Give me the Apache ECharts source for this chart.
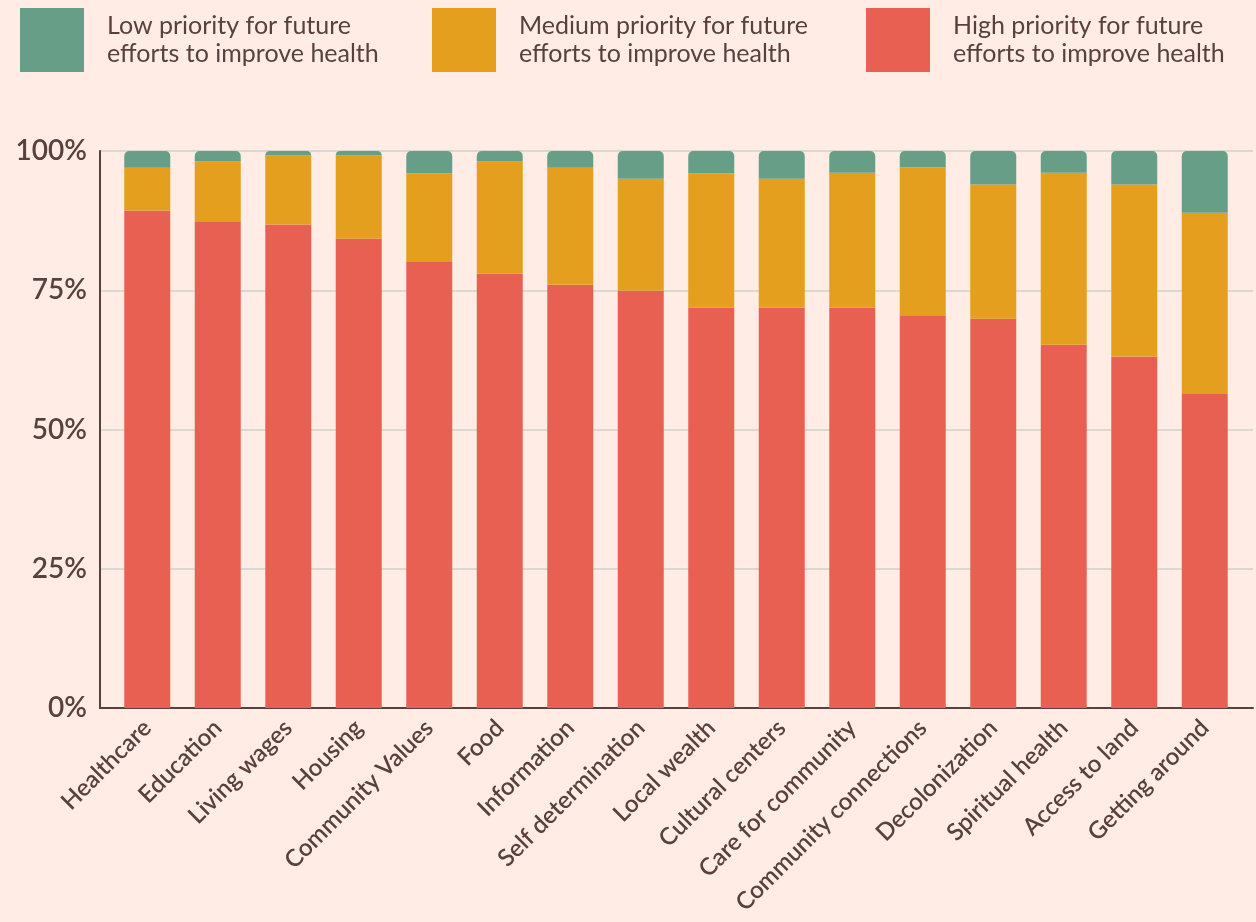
<!DOCTYPE html>
<html>
<head>
<meta charset="utf-8">
<script src="https://cdn.jsdelivr.net/npm/echarts@6/dist/echarts.min.js"></script>
<style>
  html, body { margin: 0; padding: 0; background: #feece5; }
  #chart { width: 1256px; height: 922px; }
</style>
</head>
<body>
<div id="chart"></div>
<script>
// categories, left to right
const categories = [
  "Healthcare", "Education", "Living wages", "Housing", "Community Values",
  "Food", "Information", "Self determination", "Local wealth", "Cultural centers",
  "Care for community", "Community connections", "Decolonization",
  "Spiritual health", "Access to land", "Getting around"
];

// share of respondents (%) per priority level
const highPriority = [89.3, 87.4, 86.8, 84.3, 80.2, 78.0, 76.0, 74.9, 71.9, 71.9, 71.9, 70.5, 69.9, 65.2, 63.1, 56.5];
const mediumPriority = [7.7, 10.7, 12.4, 14.9, 15.8, 20.1, 21.0, 20.1, 24.1, 23.1, 24.2, 26.6, 24.1, 30.9, 30.9, 32.4];
const lowPriority = [3.0, 1.9, 0.8, 0.8, 4.0, 1.9, 3.0, 5.0, 4.0, 5.0, 3.9, 2.9, 6.0, 3.9, 6.0, 11.1];

const yTicks = [0, 25, 50, 75, 100];

const seriesNames = {
  low: "Low priority for future\nefforts to improve health",
  medium: "Medium priority for future\nefforts to improve health",
  high: "High priority for future\nefforts to improve health"
};

const textColor = "#5a3f3f";
const labelFont = "Lato, 'Noto Sans', sans-serif";

let chart = echarts.init(document.getElementById("chart"));

function legendAt(left, name) {
  return {
    left: left,
    top: 8,
    padding: 0,
    itemWidth: 64,
    itemHeight: 64,
    icon: "rect",
    selectedMode: false,
    data: [name],
    textStyle: {
      color: textColor,
      fontFamily: labelFont,
      fontSize: 25,
      lineHeight: 28,
      padding: [8, 0, 0, 18]
    }
  };
}

const option = {
  backgroundColor: "#feece5",
  animation: false,
  legend: [
    legendAt(20, seriesNames.low),
    legendAt(432, seriesNames.medium),
    legendAt(866, seriesNames.high)
  ],
  grid: [
    // frame: axis lines and split lines
    { left: 100, right: 3, top: 151, bottom: 214, containLabel: false },
    // bars and category labels
    { left: 112, right: 16, top: 151, bottom: 214, containLabel: false }
  ],
  xAxis: [
    {
      gridIndex: 0,
      type: "category",
      data: [""],
      axisLine: { show: true, lineStyle: { color: textColor, width: 2 } },
      axisTick: { show: false },
      axisLabel: { show: false }
    },
    {
      gridIndex: 1,
      type: "category",
      data: categories,
      axisLine: { show: false },
      axisTick: { show: false },
      axisLabel: {
        rotate: 45,
        interval: 0,
        margin: 16,
        color: textColor,
        fontFamily: labelFont,
        fontWeight: 600,
        fontSize: 24
      }
    }
  ],
  yAxis: [
    {
      gridIndex: 0,
      type: "value",
      min: yTicks[0],
      max: yTicks[yTicks.length - 1],
      interval: 25,
      axisLine: { show: true, lineStyle: { color: textColor, width: 2 } },
      axisTick: { show: false },
      splitLine: { lineStyle: { color: "#d2d0ce", width: 1.5 } },
      axisLabel: {
        formatter: "{value}%",
        margin: 13,
        color: textColor,
        fontFamily: labelFont,
        fontWeight: 600,
        fontSize: 28
      }
    },
    {
      gridIndex: 1,
      type: "value",
      min: 0,
      max: 100,
      show: false
    }
  ],
  series: [
    {
      name: seriesNames.high,
      type: "bar",
      stack: "total",
      xAxisIndex: 1,
      yAxisIndex: 1,
      barWidth: 46,
      itemStyle: { color: "#e86052" },
      data: highPriority
    },
    {
      name: seriesNames.medium,
      type: "bar",
      stack: "total",
      xAxisIndex: 1,
      yAxisIndex: 1,
      barWidth: 46,
      itemStyle: { color: "#e59f1e" },
      data: mediumPriority
    },
    {
      name: seriesNames.low,
      type: "bar",
      stack: "total",
      xAxisIndex: 1,
      yAxisIndex: 1,
      barWidth: 46,
      itemStyle: { color: "#679e87", borderRadius: [5, 5, 0, 0] },
      data: lowPriority
    }
  ]
};

chart.setOption(option, true);

window.addEventListener("resize", () => {
  if (chart) {
    chart.resize();
  }
});
</script>
</body>
</html>
